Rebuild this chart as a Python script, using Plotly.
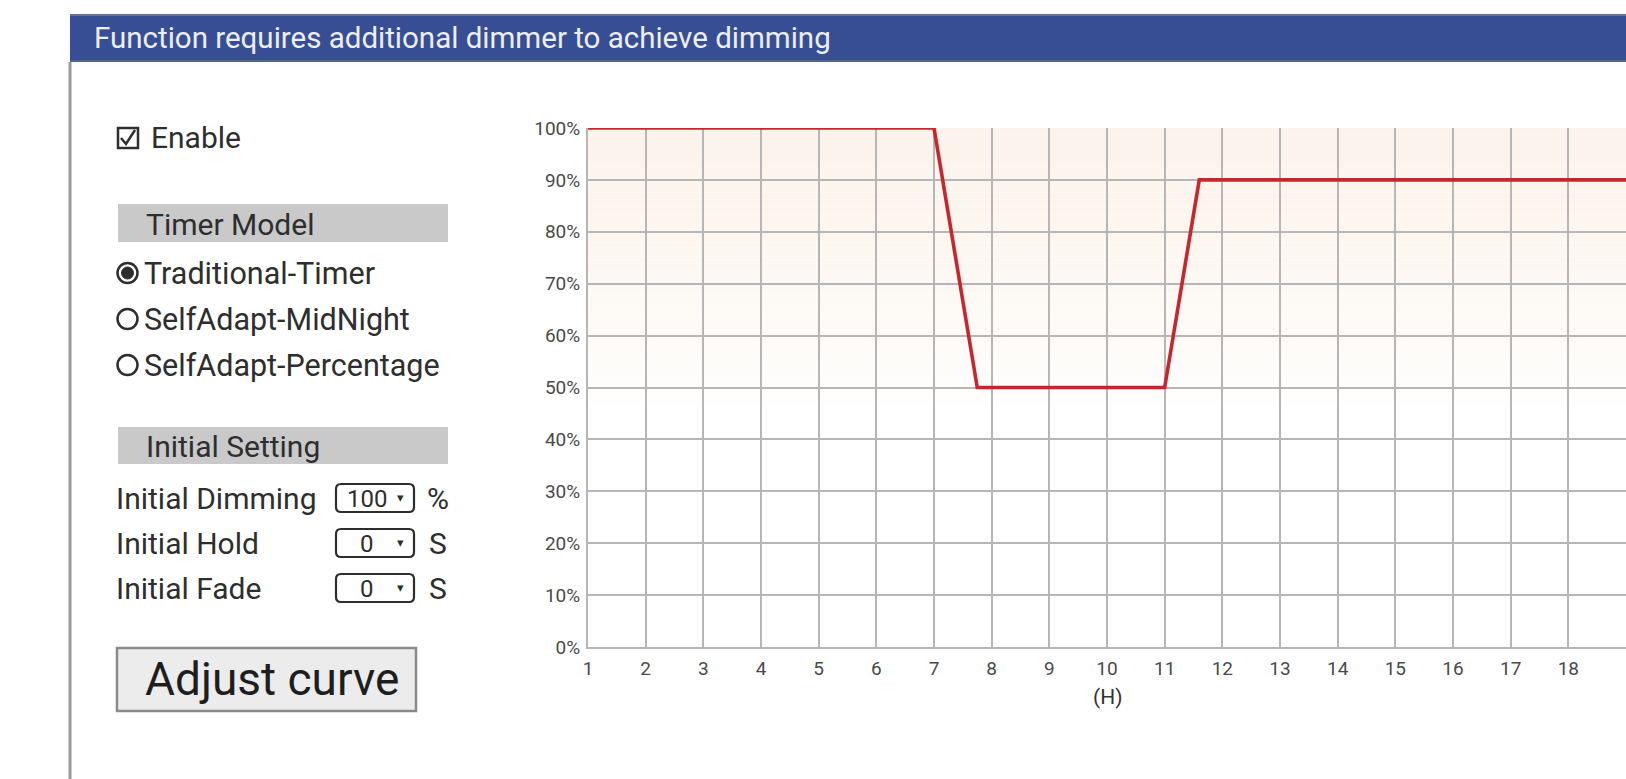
import plotly.graph_objects as go

# ---------------- data ----------------
hours = [1, 7, 7.75, 11, 11.6, 19]
dimming = [100, 100, 50, 50, 90, 90]
x_ticks = list(range(1, 20))
y_ticks = list(range(0, 101, 10))
y_tick_labels = [f"{v}%" for v in y_ticks]

title_text = "Function requires additional dimmer to achieve dimming"
enable_text = "Enable"
timer_header = "Timer Model"
timer_models = ["Traditional-Timer", "SelfAdapt-MidNight", "SelfAdapt-Percentage"]
selected_model = 0
initial_header = "Initial Setting"
initial_labels = ["Initial Dimming", "Initial Hold", "Initial Fade"]
initial_values = ["100", "0", "0"]
initial_units = ["%", "S", "S"]
button_text = "Adjust curve"
x_axis_title = "(H)"

# ---------------- layout geometry (pixels) ----------------
W, H = 1626, 779
L, R, T, B = 588, 1626, 128, 647

def px(x):
    return (x - L) / (R - L)

def py(y):
    return (B - y) / (B - T)

FONT = "Roboto"
TXT = "#2e2e2e"
LBL = 30

fig = go.Figure()
fig.add_trace(go.Scatter(x=hours, y=dimming, mode="lines",
                         line=dict(color="#c8262f", width=3.6),
                         hoverinfo="skip", showlegend=False))

shapes = []
annotations = []

def ann(text, x, y, size=LBL, anchor="left", family=FONT, color=TXT, xref="paper"):
    annotations.append(dict(text=text, xref=xref, yref="paper", x=x, y=y,
                            xanchor=anchor, yanchor="middle", showarrow=False,
                            font=dict(family=family, size=size, color=color)))

# subtle peach gradient background in the upper part of the plot
n_bands = 40
top_c = (252, 244, 236)
span = 55
for i in range(n_bands):
    f = (i / n_bands) ** 1.6
    y1 = 100 - i * (span / n_bands)
    y0 = y1 - span / n_bands
    c = tuple(round(top_c[k] + (255 - top_c[k]) * f) for k in range(3))
    shapes.append(dict(type="rect", xref="x domain", yref="y", x0=0, x1=1, y0=y0, y1=y1,
                       fillcolor=f"rgb{c}", line=dict(width=0), layer="below"))

# header bar
shapes.append(dict(type="rect", xref="paper", yref="paper", x0=px(70), x1=px(1630),
                   y0=py(62), y1=py(14), fillcolor="#384e94", line=dict(width=0), layer="above"))
shapes.append(dict(type="line", xref="paper", yref="paper", x0=px(70), x1=px(1630),
                   y0=py(15), y1=py(15), line=dict(color="#66719a", width=2), layer="above"))
shapes.append(dict(type="line", xref="paper", yref="paper", x0=px(70), x1=px(1630),
                   y0=py(61), y1=py(61), line=dict(color="#556094", width=2), layer="above"))
ann(title_text, px(92), py(38), size=29.5, color="#eceef8")

# left border
shapes.append(dict(type="line", xref="paper", yref="paper", x0=px(70), x1=px(70),
                   y0=py(62), y1=py(790), line=dict(color="#9a9a9a", width=3), layer="above"))

# enable checkbox (box + check mark)
shapes.append(dict(type="rect", xref="paper", yref="paper", x0=px(118), x1=px(138),
                   y0=py(148), y1=py(128), line=dict(color=TXT, width=2.5),
                   fillcolor="white", layer="above"))
shapes.append(dict(type="path", xref="paper", yref="paper",
                   path=f"M {px(121)},{py(138)} L {px(126)},{py(144)} L {px(135)},{py(130)}",
                   line=dict(color=TXT, width=2.5), layer="above"))
ann(enable_text, px(149), py(138))

# section header bars
for text, y0, y1 in [(timer_header, 204, 242), (initial_header, 427, 464)]:
    shapes.append(dict(type="rect", xref="paper", yref="paper", x0=px(118), x1=px(448),
                       y0=py(y1), y1=py(y0), fillcolor="#c9c9c9", line=dict(width=0), layer="above"))
    ann(text, px(144), py((y0 + y1) / 2 + 1))

# radio options
radio_y = [273, 319, 365]
for i, (name, yy) in enumerate(zip(timer_models, radio_y)):
    r = 10
    shapes.append(dict(type="circle", xref="paper", yref="paper",
                       x0=px(127.5 - r), x1=px(127.5 + r), y0=py(yy + r), y1=py(yy - r),
                       line=dict(color=TXT, width=2.5), fillcolor="white", layer="above"))
    if i == selected_model:
        r2 = 6
        shapes.append(dict(type="circle", xref="paper", yref="paper",
                           x0=px(127.5 - r2), x1=px(127.5 + r2), y0=py(yy + r2), y1=py(yy - r2),
                           line=dict(color=TXT, width=1), fillcolor=TXT, layer="above"))
    ann(name, px(142), py(yy), size=30.5)

# initial settings rows
def rounded_rect(x0, y0, x1, y1, rad):
    X = px
    Y = py
    return (f"M {X(x0+rad)},{Y(y0)} L {X(x1-rad)},{Y(y0)} Q {X(x1)},{Y(y0)} {X(x1)},{Y(y0+rad)} "
            f"L {X(x1)},{Y(y1-rad)} Q {X(x1)},{Y(y1)} {X(x1-rad)},{Y(y1)} "
            f"L {X(x0+rad)},{Y(y1)} Q {X(x0)},{Y(y1)} {X(x0)},{Y(y1-rad)} "
            f"L {X(x0)},{Y(y0+rad)} Q {X(x0)},{Y(y0)} {X(x0+rad)},{Y(y0)} Z")

row_y = [498, 543, 588]
for lab, val, unit, yy in zip(initial_labels, initial_values, initial_units, row_y):
    ann(lab, px(114), py(yy))
    shapes.append(dict(type="path", xref="paper", yref="paper",
                       path=rounded_rect(336, yy - 14, 414, yy + 14, 5),
                       line=dict(color=TXT, width=2.2), fillcolor="white", layer="above"))
    ann(val, px(367), py(yy + 1), size=24, anchor="center")
    ann("\u25be", px(400), py(yy - 1), size=13, anchor="center", family="DejaVu Sans")
    ann(unit, px(438), py(yy), anchor="center")

# adjust curve button
shapes.append(dict(type="rect", xref="paper", yref="paper", x0=px(117), x1=px(416),
                   y0=py(711), y1=py(648), fillcolor="#ececec",
                   line=dict(color="#8a8a8a", width=2.5), layer="above"))
ann(button_text, px(272), py(679), size=46, anchor="center", color="#1e1e1e")

# x axis title
ann(x_axis_title, 10, py(697), size=21, anchor="center", color="#333", xref="x")

GRID = "#b6b6b6"
fig.update_layout(
    width=W, height=H, autosize=False,
    margin=dict(l=L, r=W - R, t=T, b=H - B, pad=0),
    paper_bgcolor="white", plot_bgcolor="white",
    showlegend=False,
    shapes=shapes, annotations=annotations,
    xaxis=dict(range=[1, 19], tickmode="array", tickvals=x_ticks,
               ticktext=[str(v) for v in x_ticks],
               showgrid=True, gridcolor=GRID, gridwidth=2,
               zeroline=False, showline=True, linecolor=GRID, linewidth=2,
               ticks="", ticklabelstandoff=3,
               tickfont=dict(family=FONT, size=19, color="#4a4a4a"), fixedrange=True),
    yaxis=dict(range=[0, 100], tickmode="array", tickvals=y_ticks, ticktext=y_tick_labels,
               showgrid=True, gridcolor=GRID, gridwidth=2,
               zeroline=False, showline=True, linecolor=GRID, linewidth=2,
               ticks="", ticklabelstandoff=2,
               tickfont=dict(family=FONT, size=19, color="#4a4a4a"), fixedrange=True),
)

fig.write_html("out.html", config={"displayModeBar": False},
               post_script="document.body.style.margin='0';document.body.style.overflow='hidden';")
